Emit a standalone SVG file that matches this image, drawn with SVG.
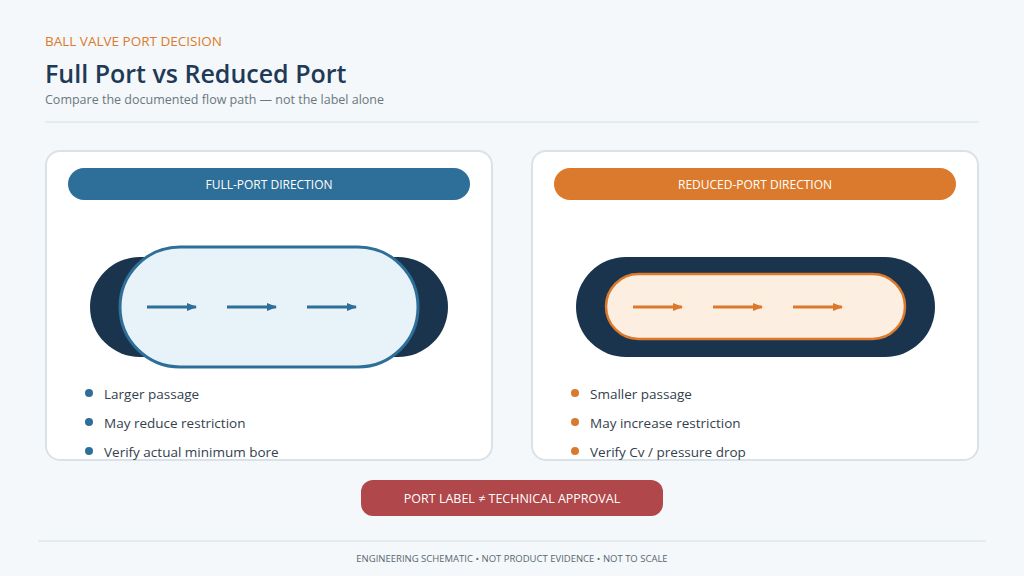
<svg xmlns="http://www.w3.org/2000/svg" width="1024" height="576" viewBox="0 0 1024 576">
<style>
text{font-family:"Open Sans","Noto Sans",sans-serif}
.card{fill:#fff;stroke:#d9e2e8;stroke-width:2}
.bul{font-size:13.5px;fill:#33414d}
.hdr{font-size:12px;fill:#fff;text-anchor:middle}
.dark{fill:#1b344d}
</style>
<defs>
<marker id="ab" markerWidth="10" markerHeight="8" refX="9" refY="4" orient="auto" markerUnits="userSpaceOnUse"><path d="M0,0L10,4L0,8z" fill="#2d6f98"/></marker>
<marker id="ao" markerWidth="10" markerHeight="8" refX="9" refY="4" orient="auto" markerUnits="userSpaceOnUse"><path d="M0,0L10,4L0,8z" fill="#db7a2c"/></marker>
</defs>
<rect width="1024" height="576" fill="#f4f8fa"/>
<text x="45" y="46" font-size="13.5" fill="#db7a2c">BALL VALVE PORT DECISION</text>
<text x="45" y="83" font-size="25" font-weight="600" fill="#1e3a57">Full Port vs Reduced Port</text>
<text x="45" y="104" font-size="12.5" fill="#6b7780">Compare the documented flow path — not the label alone</text>
<line x1="45" y1="122" x2="979" y2="122" stroke="#d6dfe5"/>
<g id="full">
<rect class="card" x="46" y="151" width="446" height="309" rx="14"/>
<rect x="68" y="168" width="402" height="32" rx="16" fill="#2d6f98"/>
<text class="hdr" x="269" y="189">FULL-PORT DIRECTION</text>
<rect class="dark" x="90" y="257" width="358" height="100" rx="50"/>
<rect x="120" y="247" width="298" height="120" rx="60" fill="#e8f2f9" stroke="#2d6f98" stroke-width="3"/>
</g>
<g id="reduced">
<rect class="card" x="532" y="151" width="446" height="309" rx="14"/>
<rect x="554" y="168" width="402" height="32" rx="16" fill="#db7a2c"/>
<text class="hdr" x="755" y="189">REDUCED-PORT DIRECTION</text>
<rect class="dark" x="576" y="257" width="359" height="100" rx="50"/>
<rect x="606" y="274" width="299" height="65" rx="32.5" fill="#fdeee2" stroke="#db7a2c" stroke-width="2.5"/>
</g>
<g id="connectors" stroke-width="3">
<line x1="147" y1="307" x2="196" y2="307" stroke="#2d6f98" marker-end="url(#ab)"/>
<line x1="227" y1="307" x2="276" y2="307" stroke="#2d6f98" marker-end="url(#ab)"/>
<line x1="307" y1="307" x2="356" y2="307" stroke="#2d6f98" marker-end="url(#ab)"/>
<line x1="633" y1="307" x2="682" y2="307" stroke="#db7a2c" marker-end="url(#ao)"/>
<line x1="713" y1="307" x2="762" y2="307" stroke="#db7a2c" marker-end="url(#ao)"/>
<line x1="793" y1="307" x2="842" y2="307" stroke="#db7a2c" marker-end="url(#ao)"/>
</g>
<g id="bullets-full" fill="#2d6f98">
<circle cx="89" cy="393" r="4"/><circle cx="89" cy="422" r="4"/><circle cx="89" cy="451" r="4"/>
<text class="bul" x="104" y="399">Larger passage</text>
<text class="bul" x="104" y="428">May reduce restriction</text>
<text class="bul" x="104" y="457">Verify actual minimum bore</text>
</g>
<g id="bullets-reduced" fill="#db7a2c">
<circle cx="575" cy="393" r="4"/><circle cx="575" cy="422" r="4"/><circle cx="575" cy="451" r="4"/>
<text class="bul" x="590" y="399">Smaller passage</text>
<text class="bul" x="590" y="428">May increase restriction</text>
<text class="bul" x="590" y="457">Verify Cv / pressure drop</text>
</g>
<g id="warning">
<rect x="361" y="480" width="302" height="36" rx="12" fill="#b0474a"/>
<text x="512" y="503" font-size="12.5" fill="#fff" text-anchor="middle">PORT LABEL ≠ TECHNICAL APPROVAL</text>
</g>
<line x1="38" y1="541" x2="986" y2="541" stroke="#d6dfe5"/>
<text x="512" y="562" font-size="9.5" fill="#5a6670" text-anchor="middle">ENGINEERING SCHEMATIC • NOT PRODUCT EVIDENCE • NOT TO SCALE</text>
</svg>
